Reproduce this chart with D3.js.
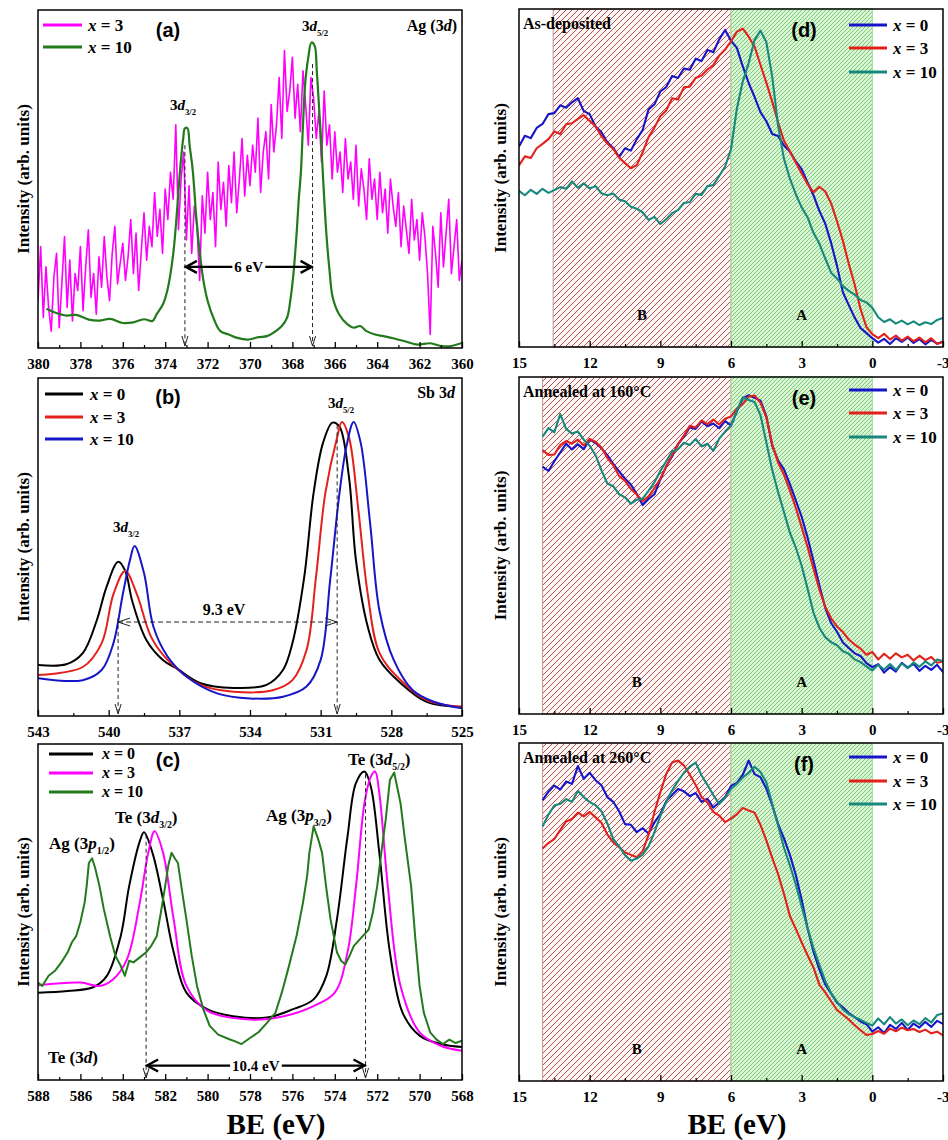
<!DOCTYPE html>
<html>
<head>
<meta charset="utf-8">
<script src="https://cdn.jsdelivr.net/npm/d3@7/dist/d3.min.js"></script>
<style>
body{margin:0;background:#fff;}
svg{display:block;}
</style>
</head>
<body>
<svg id="fig" width="948" height="1140"></svg>
<script>
// ---------- data (intensities in % of panel height) ----------
// (a) Ag 3d, x = 3 (0.125 eV steps)
var beA = [380,379.875,379.75,379.625,379.5,379.375,379.25,379.125, 379,378.875,378.75,378.625,378.5,378.375,378.25,378.125,
  378,377.875,377.75,377.625,377.5,377.375,377.25,377.125, 377,376.875,376.75,376.625,376.5,376.375,376.25,376.125,
  376,375.875,375.75,375.625,375.5,375.375,375.25,375.125, 375,374.875,374.75,374.625,374.5,374.375,374.25,374.125,
  374,373.875,373.75,373.625,373.5,373.375,373.25,373.125, 373,372.875,372.75,372.625,372.5,372.375,372.25,372.125,
  372,371.875,371.75,371.625,371.5,371.375,371.25,371.125, 371,370.875,370.75,370.625,370.5,370.375,370.25,370.125,
  370,369.875,369.75,369.625,369.5,369.375,369.25,369.125, 369,368.875,368.75,368.625,368.5,368.375,368.25,368.125,
  368,367.875,367.75,367.625,367.5,367.375,367.25,367.125, 367,366.875,366.75,366.625,366.5,366.375,366.25,366.125,
  366,365.875,365.75,365.625,365.5,365.375,365.25,365.125, 365,364.875,364.75,364.625,364.5,364.375,364.25,364.125,
  364,363.875,363.75,363.625,363.5,363.375,363.25,363.125, 363,362.875,362.75,362.625,362.5,362.375,362.25,362.125,
  362,361.875,361.75,361.625,361.5,361.375,361.25,361.125, 361,360.875,360.75,360.625,360.5,360.375,360.25,360.125, 360];
var agX3 = [14,30,9,24,12,5,21,28, 6,19,33,12,26,8,22,17, 30,11,24,35,15,22,10,27, 18,33,21,14,28,36,19,25,
  31,20,27,38,22,34,17,29, 40,26,36,30,46,33,41,28, 47,38,52,44,66,35,50,58, 32,48,28,42,36,20,45,34,
  52,38,46,30,55,41,49,36, 54,43,58,40,50,62,45,57, 48,60,52,68,46,58,64,50, 72,58,66,80,62,88,70,76,
  86,68,78,64,82,72,60,80, 74,62,70,55,76,60,66,50, 64,52,58,46,62,50,55,44, 60,42,53,47,38,56,44,50,
  38,52,40,47,34,50,42,36, 46,30,42,35,28,44,32,38, 26,40,33,22,4,36,28,18, 40,24,34,44,22,30,38,20, 26];
var agX10 = [[379.6,11.6],[379.2,10.5],[378.65,9.6],[378.2,9.8],[377.6,8.4],[377.1,8.1],[376.6,8.6],[376.0,7.4],
  [375.5,7.6],[375.0,8.5],[374.6,8.0],[374.4,10],[374.1,13],[373.9,17],[373.75,22],[373.6,29],[373.45,40],
  [373.3,52.5],[373.15,62],[373.07,65],[372.95,65],[372.85,60],[372.7,52.5],[372.55,40],[372.4,30],[372.2,20],
  [372.0,14],[371.7,8.5],[371.4,5],[371.0,4],[370.6,3],[370.1,2.5],[369.6,3.2],[369.2,3.5],[368.9,4.5],
  [368.5,6.5],[368.25,9],[368.1,14],[367.95,22],[367.8,34],[367.7,44],[367.6,52],[367.5,66],[367.4,78],
  [367.25,86],[367.1,90.4],[366.95,89.4],[366.85,82],[366.75,72],[366.65,62],[366.55,50],[366.4,34],
  [366.25,23],[366.1,15],[365.8,10],[365.4,7],[365.1,6],[364.8,6.5],[364.5,5],[364.1,4],[363.7,3.5],
  [363.2,2.8],[362.7,2],[362.1,1],[361.5,1.4],[361.0,0.6],[360.6,0.5],[360.0,1.5]];

// (b) Sb 3d
var sbX0 = [[543,15.1],[541.8,15.3],[541.1,18.6],[540.5,28.4],[540.1,38],[539.6,45.6],[539.3,43],[539.0,34],
  [538.4,22.5],[537.7,16.6],[537.1,14],[536.1,9.7],[534.7,8.3],[533.3,9.2],[532.6,13.6],[532.2,21.5],
  [531.7,41],[531.3,66],[530.9,80.8],[530.5,86.8],[530.2,85.6],[529.8,70.8],[529.5,46],[529.0,26.4],
  [528.5,16.6],[527.6,9.7],[526.5,4.2],[525,2.7]];
var sbX3 = [[543,12.1],[541.1,14.5],[540.3,21.5],[539.8,36],[539.3,42.9],[538.8,36],[538.2,23.4],[537.5,16.6],
  [536.1,9.2],[534.7,7.2],[533.0,7.7],[532.2,10.6],[531.6,19.5],[531.2,41],[530.8,66],[530.3,82.5],
  [530.1,87],[529.8,82.5],[529.4,61],[529.0,36],[528.5,18.6],[527.6,10.6],[526.5,4.7],[525,2.7]];
var sbX10 = [[543,11.2],[541.1,10.6],[540.3,13.6],[539.8,21.5],[539.4,36],[539.1,46],[538.9,50.3],[538.5,42.3],
  [538.1,26.4],[537.5,17.6],[536.7,11.7],[535.4,6.7],[534.0,5.2],[532.6,5.7],[531.6,8.7],[531.0,16.6],
  [530.6,40],[530.2,66],[529.9,80],[529.6,87],[529.3,80.8],[528.9,57],[528.5,31],[527.9,16.6],
  [527.1,7.7],[526.2,4.2],[525,2.3]];

// (c) Te 3d
var teX0 = [[588,26],[586.6,26.5],[585.4,27.6],[584.75,31],[584.1,42.8],[583.7,57.7],[583.2,71],[583.0,73.7],
  [582.6,67.6],[582.1,53.7],[581.6,38],[581.0,26],[580.0,21],[578.8,19],[577.2,18.6],[576.0,21],[575.0,24],
  [574.4,31],[573.9,47.8],[573.4,72.5],[573.0,88.4],[572.6,91.8],[572.3,87.3],[571.9,67.6],[571.4,38],
  [570.8,20],[570.0,13.2],[569.0,10.7],[568,9.8]];
var teX3 = [[588,28.2],[586.0,29],[585.1,28],[584.45,30],[583.8,36],[583.2,52.8],[582.8,67.6],[582.5,74],
  [582.1,67.6],[581.6,47.8],[581.0,28],[580.0,20.6],[578.0,18],[576.4,19],[575.0,22],[574.0,26],[573.4,38],
  [573.0,57.7],[572.6,82.4],[572.3,90.3],[572.1,91.8],[571.9,85.4],[571.5,57.7],[570.9,28],[570.0,14.2],
  [569.0,10.2],[568,8.7]];
var teX10 = [[588,29],[587.8,28],[587.5,31],[587.2,32.5],[586.9,35],[586.6,38],[586.4,41],[586.2,42.8],[586.0,47],
  [585.8,52.8],[585.7,58],[585.6,64.6],[585.45,66],[585.3,63],[585.1,57.7],[584.9,51],[584.6,42.8],[584.35,37],
  [584.1,34],[583.9,31],[583.7,35.5],[583.5,35],[583.2,36.5],[582.9,38],[582.65,40],[582.4,42.8],[582.2,50],
  [582.0,57.7],[581.85,64],[581.7,67.6],[581.55,66],[581.4,64.6],[581.2,56],[581.0,47.8],[580.75,37],
  [580.5,28],[580.2,21],[579.9,16.1],[579.5,13.5],[579.0,12.2],[578.7,11.5],[578.4,10.7],[578.0,12.5],
  [577.6,14.2],[577.2,17],[576.8,20],[576.5,26],[576.2,33],[575.8,43],[575.5,52.8],[575.3,61],[575.2,67.6],
  [575.0,75.5],[574.8,72],[574.6,67.6],[574.4,57],[574.2,47.8],[573.9,38],[573.7,35.5],[573.5,34.4],
  [573.3,37],[573.1,39.9],[572.8,42],[572.4,44.8],[572.2,50],[572.0,57.7],[571.8,68],[571.6,77.4],
  [571.4,89.3],[571.2,91.5],[571.05,87],[570.9,82.4],[570.7,72],[570.4,57.7],[570.2,42],[570.0,28],
  [569.8,20],[569.5,14.2],[569.2,12],[568.9,10.7],[568.6,12],[568.3,11],[568,11.7]];

// (d)-(f) valence band, BE in eV
var beD = [15,14.75,14.5,14.25,14,13.75,13.5,13.25,13,12.75,12.5,12.25,12,11.75,11.5,11.25,11,10.75,10.5,10.25,
  10,9.75,9.5,9.25,9,8.75,8.5,8.25,8,7.75,7.5,7.25,7,6.75,6.5,6.25,6,5.75,5.5,5.25,5,4.75,4.5,4.25,4,3.75,
  3.5,3.25,3,2.75,2.5,2.25,2,1.75,1.5,1.25,1,0.75,0.5,0.25,0,-0.25,-0.5,-0.75,-1,-1.25,-1.5,-1.75,-2,-2.25,
  -2.5,-2.75,-3];
var beEF = [14,13.75,13.5,13.25,13,12.75,12.5,12.25,12,11.75,11.5,11.25,11,10.75,10.5,10.25,
  10,9.75,9.5,9.25,9,8.75,8.5,8.25,8,7.75,7.5,7.25,7,6.75,6.5,6.25,6,5.75,5.5,5.25,5,4.75,4.5,4.25,4,3.75,
  3.5,3.25,3,2.75,2.5,2.25,2,1.75,1.5,1.25,1,0.75,0.5,0.25,0,-0.25,-0.5,-0.75,-1,-1.25,-1.5,-1.75,-2,-2.25,
  -2.5,-2.75,-3];

var dX0 = [59.3,62.5,61.8,64.8,66.0,68.9,69.2,71.5,70.8,72.4, 73.6,69.8,68.9,65.2,63.5,60.6,58.9,56.2,58.8,58.1,
  61.5,64.2,70.3,71.8,75.6,76.9,80.2,79.6,82.4,82.0, 85.3,84.6,87.9,87.2,91.0,93.8,90.6,88.5,83.0,78.1,
  74.0,69.5,66.8,63.0,62.4,59.6,57.8,54.9,52.6,48.7, 44.9,40.3,36.5,30.8,24.0,16.2,12.4,8.7,5.6,4.1,
  2.6, 1.3,2.4,0.9,2.6,1.5,2.8,1.2,2.3,0.8,2.1,1.0,1.6];
var dX3 = [53.7,56.4,55.9,58.8,60.1,61.5,63.8,63.0,65.9,66.2, 67.5,68.6,66.9,65.3,62.4,60.2,58.6,56.0,54.4,52.9,
  53.8,57.6,62.1,64.9,68.3,70.0,73.6,73.2,76.8,77.0, 79.6,80.3,82.1,83.4,86.2,88.0,90.4,93.3,94.2,91.8,
  88.9,83.5,78.2,72.6,66.4,61.0,57.9,54.6,51.3,48.2, 45.8,47.4,46.0,42.5,37.2,31.4,24.6,18.5,11.2,5.9,
  3.8, 2.6,3.9,2.2,3.4,1.9,3.1,1.7,2.8,1.4,2.6,0.9,1.5];
var dX10 = [46.2,44.9,46.5,45.3,46.8,45.6,46.4,47.3,46.8,49.0, 47.1,48.4,46.9,47.6,45.5,44.9,45.4,43.6,43.1,41.5,
  40.9,39.8,37.6,38.5,36.4,37.8,39.6,40.5,42.6,42.9, 45.3,45.0,47.6,47.9,50.6,53.4,58.5,70.5,78.6,84.0,
  90.8,93.6,90.2,80.0,65.5,55.6,49.8,45.2,41.3,38.4, 33.8,30.6,26.2,22.0,20.3,18.0,16.6,15.5,13.9,13.2,
  11.6, 8.8,7.4,8.2,6.9,7.8,6.7,7.6,6.5,7.3,6.8,8.0,8.6];

var eX0 = [73.4,72.1,75.0,77.6,80.2,78.5,80.0,78.6,81.5,80.4, 78.9,76.8,74.2,72.0,69.8,68.1,65.3,62.0,63.8,65.2,
  69.6,73.5,76.4,80.1,82.3,85.0,84.6,86.8,85.4,86.2, 84.8,86.9,85.6,89.8,93.6,94.6,93.8,93.0,88.4,79.6,
  75.2,72.6,68.2,63.4,58.5,52.4,45.5,38.2,31.5,27.0, 24.4,21.2,19.6,18.0,17.2,15.1,13.9,
  14.8,12.3,13.9,12.6,15.2,13.8,14.9,12.8,14.3,13.1,14.6,12.4];
var eX3 = [78.3,76.9,77.0,79.8,81.0,80.2,81.4,79.7,81.6,80.8, 79.1,76.0,73.8,70.6,69.2,66.8,65.1,63.2,64.6,67.0,
  69.8,73.4,76.8,80.0,82.6,85.5,85.0,87.1,86.0,87.4, 85.9,87.6,88.3,90.6,92.0,94.2,94.5,92.4,88.0,80.1,
  74.6,71.0,66.3,61.2,55.4,49.6,43.2,37.0,31.8,28.4, 26.0,24.3,22.1,20.6,19.4,17.6,18.4,
  16.2,17.9,16.4,18.0,16.8,17.6,15.9,17.3,16.0,16.9,15.2,15.6];
var eX10 = [82.3,84.8,83.6,89.0,84.6,83.2,83.8,81.4,79.6,76.8, 72.3,68.4,67.6,65.2,64.3,62.4,63.6,63.9,66.2,68.8,
  72.1,75.0,77.9,78.6,80.5,79.8,81.6,79.4,80.2,78.1, 81.7,83.8,85.6,90.0,94.0,93.2,92.6,88.7,80.6,72.4,
  65.8,59.9,53.8,49.4,44.0,37.2,30.1,25.6,22.8,21.3, 20.4,18.6,17.9,16.2,15.4,14.1,12.9,
  14.6,13.2,14.8,13.1,15.0,13.6,15.3,14.0,15.6,14.4,16.2,15.7];

var fX0 = [83.1,85.6,87.4,86.2,88.6,87.9,93.2,89.4,91.2,89.0, 87.5,84.0,82.6,79.8,76.0,75.8,73.6,74.8,73.2,76.5,
  79.0,82.8,84.6,86.4,85.7,84.3,85.2,82.6,83.5,80.9, 82.4,84.0,87.3,88.2,90.6,94.8,90.8,89.9,86.5,81.6,
  76.0,71.8,66.9,61.0,53.6,45.2,38.3,33.0,28.6,25.9, 23.2,21.8,20.1,18.9,17.6,16.8,14.6,
  15.9,14.2,16.6,15.4,17.2,15.1,17.0,15.8,17.5,16.0,17.8,16.9];
var fX3 = [68.8,70.4,71.6,74.2,76.8,77.5,79.4,78.3,79.6,78.0, 76.4,73.0,70.6,69.2,67.6,66.9,66.2,68.0,72.8,79.6,
  85.4,90.8,94.2,94.8,93.4,90.6,87.6,84.0,82.4,79.6, 78.5,76.6,77.6,78.9,80.8,80.0,79.4,75.8,71.2,66.0,
  61.2,55.3,48.8,45.0,41.0,37.2,33.6,28.5,26.2,23.6, 21.0,19.6,18.2,16.5,15.0,13.6,13.9,
  14.8,14.0,15.5,14.7,15.8,15.0,15.4,14.5,15.2,14.1,14.6,13.5];
var fX10 = [75.3,78.8,81.5,82.0,83.4,82.6,85.8,84.0,82.5,81.6, 79.8,76.2,71.6,69.4,66.8,65.2,65.8,67.0,69.4,73.6,
  78.4,82.6,86.0,88.7,91.2,93.0,94.2,90.4,87.6,84.6, 82.0,83.8,86.4,87.9,89.8,91.2,93.0,91.4,88.4,82.0,
  75.6,69.0,63.8,58.2,51.6,45.2,39.4,34.4,29.6,26.0, 23.4,21.2,19.8,18.9,18.1,17.2,16.4,
  18.5,16.8,18.9,17.0,18.2,16.5,17.9,16.8,18.6,17.3,19.5,20.0];

// ticks
var ticksA = [380,378,376,374,372,370,368,366,364,362,360];
var minorA = [379,377,375,373,371,369,367,365,363,361];
var ticksB = [543,540,537,534,531,528,525];
var minorB = [541.5,538.5,535.5,532.5,529.5,526.5];
var ticksC = [588,586,584,582,580,578,576,574,572,570,568];
var minorC = [587,585,583,581,579,577,575,573,571,569];
var ticksV = [15,12,9,6,3,0,-3];
var minorV = [13.5,10.5,7.5,4.5,1.5,-1.5];

// ---------- drawing ----------
var svg = d3.select("#fig");
var serif = "'Liberation Serif','Times New Roman',serif";
var sans = "'Liberation Sans',Arial,sans-serif";
var MAG = "#ff00ff", GRN = "#237a1c", BLK = "#000000", RED = "#e3211c", BLU = "#1616c8", TEAL = "#17887c";

var defs = svg.append("defs");
var pB = defs.append("pattern").attr("id","hatchB").attr("patternUnits","userSpaceOnUse").attr("width",6).attr("height",6);
pB.append("rect").attr("width",6).attr("height",6).attr("fill","#fff8f7");
pB.append("path").attr("d","M0,6L6,0M-1,1L1,-1M5,7L7,5").attr("stroke","#a8403a").attr("stroke-width",0.9);
var pA = defs.append("pattern").attr("id","hatchA").attr("patternUnits","userSpaceOnUse").attr("width",4).attr("height",4);
pA.append("rect").attr("width",4).attr("height",4).attr("fill","#dcf4d6");
pA.append("path").attr("d","M0,4L4,0M-1,1L1,-1M3,5L5,3").attr("stroke","#6cc868").attr("stroke-width",0.9);

// rich text: parts = [[text, flag]], flag: i italic, s subscript, u back up
function rich(g, x, y, parts, size, anchor){
  var t = g.append("text").attr("x",x).attr("y",y).attr("font-family",serif)
    .attr("font-weight","bold").attr("font-size",size).attr("text-anchor",anchor||"start");
  parts.forEach(function(p){
    var s = t.append("tspan").text(p[0]);
    if(p[1]=="i") s.attr("font-style","italic");
    if(p[1]=="s") s.attr("font-size",size*0.58).attr("dy",size*0.3);
    if(p[1]=="u") s.attr("dy",-size*0.3);
  });
  return t;
}

function vDashArrow(g, xp, y0, y1){
  g.append("line").attr("x1",xp).attr("x2",xp).attr("y1",y0).attr("y2",y1)
    .attr("stroke","#222").attr("stroke-width",1).attr("stroke-dasharray","4,3");
  g.append("path").attr("d","M"+(xp-3)+","+(y1-10)+"L"+xp+","+y1+"L"+(xp+3)+","+(y1-10))
    .attr("fill","none").attr("stroke","#222").attr("stroke-width",1);
}

function dblArrow(g, x1, x2, yy, label, size){
  g.append("line").attr("x1",x1).attr("x2",x2).attr("y1",yy).attr("y2",yy).attr("stroke","#000").attr("stroke-width",2.2);
  g.append("path").attr("d","M"+(x1+12)+","+(yy-6)+"L"+(x1+1)+","+yy+"L"+(x1+12)+","+(yy+6))
    .attr("fill","none").attr("stroke","#000").attr("stroke-width",2.4);
  g.append("path").attr("d","M"+(x2-12)+","+(yy-6)+"L"+(x2-1)+","+yy+"L"+(x2-12)+","+(yy+6))
    .attr("fill","none").attr("stroke","#000").attr("stroke-width",2.4);
  var t = g.append("text").attr("x",(x1+x2)/2).attr("y",yy+size*0.35).attr("text-anchor","middle")
    .attr("font-family",serif).attr("font-weight","bold").attr("font-size",size).text(label);
  var bb = t.node().getBBox();
  g.insert("rect", function(){ return t.node(); }).attr("x",bb.x-2).attr("y",yy-4).attr("width",bb.width+4).attr("height",8).attr("fill","#fff");
}

function drawPanel(p){
  var x = d3.scaleLinear().domain(p.xdom).range([p.left, p.right]);
  var y = d3.scaleLinear().domain([0,100]).range([p.bottom, p.top]);
  var g = svg.append("g");
  var cid = "clip_" + p.id;
  defs.append("clipPath").attr("id",cid).append("rect")
    .attr("x",p.left).attr("y",p.top).attr("width",p.right-p.left).attr("height",p.bottom-p.top);

  (p.regions||[]).forEach(function(r){
    g.append("rect").attr("x",x(r[0])).attr("y",p.top).attr("width",x(r[1])-x(r[0])).attr("height",p.bottom-p.top)
      .attr("fill","url(#hatch"+r[2]+")").attr("stroke", r[2]=="B" ? "#c89490" : "#9fd99b").attr("stroke-width",1);
  });
  (p.regionText||[]).forEach(function(r){
    g.append("text").attr("x",x(r[0])).attr("y",p.bottom-27).attr("text-anchor","middle")
      .attr("font-family",serif).attr("font-weight","bold").attr("font-size",15).text(r[1]);
  });

  var cg = g.append("g").attr("clip-path","url(#"+cid+")");
  p.series.forEach(function(s){
    var line = d3.line().x(function(d){return x(d[0]);}).y(function(d){return y(d[1]);})
      .curve(s.smooth ? d3.curveCatmullRom.alpha(0.5) : d3.curveLinear);
    cg.append("path").datum(s.data).attr("d",line).attr("fill","none")
      .attr("stroke",s.color).attr("stroke-width",s.w).attr("stroke-linejoin","round");
  });

  if(p.extra) p.extra(g, x, y);

  g.append("rect").attr("x",p.left).attr("y",p.top).attr("width",p.right-p.left).attr("height",p.bottom-p.top)
    .attr("fill","none").attr("stroke","#000").attr("stroke-width",1.5);

  var ax = g.append("g").attr("transform","translate(0,"+p.bottom+")")
    .call(d3.axisBottom(x).tickValues(p.ticks).tickSize(-6).tickPadding(10).tickFormat(function(d){return d;}));
  ax.select(".domain").remove();
  ax.selectAll("line").attr("stroke","#000").attr("stroke-width",1.3);
  ax.selectAll("text").attr("font-family",serif).attr("font-weight","bold").attr("font-size",15).attr("fill","#000");
  // keep the right-most label inside the page
  ax.selectAll(".tick").filter(function(d){ return x(d) > 935; }).select("text").attr("text-anchor","end").attr("dx",6);
  var mx = g.append("g").attr("transform","translate(0,"+p.bottom+")")
    .call(d3.axisBottom(x).tickValues(p.minor).tickSize(-3).tickFormat(""));
  mx.select(".domain").remove();
  mx.selectAll("line").attr("stroke","#000").attr("stroke-width",1.2);

  // y title
  g.append("text").attr("transform","translate("+p.ytx+","+((p.top+p.bottom)/2)+") rotate(-90)")
    .attr("text-anchor","middle").attr("dominant-baseline","central")
    .attr("font-family",serif).attr("font-weight","bold").attr("font-size",17).text("Intensity (arb. units)");

  // legend
  var L = p.legend;
  L.rows.forEach(function(r){
    g.append("line").attr("x1",L.x1).attr("x2",L.x2).attr("y1",r[0]).attr("y2",r[0])
      .attr("stroke",r[1]).attr("stroke-width",3);
    rich(g, L.tx, r[0]+L.fs*0.33, [["x","i"],[" = "+r[2]]], L.fs);
  });

  // panel letter
  g.append("text").attr("x",p.letter[0]).attr("y",p.letter[1]).attr("text-anchor","middle")
    .attr("font-family",sans).attr("font-weight","bold").attr("font-size",20).text(p.letter[2]);

  (p.labels||[]).forEach(function(l){ rich(g, l.x, l.y, l.parts, l.size, l.anchor); });
}

// (a)
drawPanel({id:"a", left:38, right:462, top:10, bottom:348, xdom:[380,360], ticks:ticksA, minor:minorA, ytx:23,
  series:[{data:d3.zip(beA, agX3), color:MAG, w:1.6},
          {data:agX10, color:GRN, w:2.2, smooth:true}],
  legend:{x1:43, x2:82, tx:88, fs:17, rows:[[25,MAG,"3"],[47,GRN,"10"]]},
  letter:[168, 37, "(a)"],
  labels:[
    {x:170, y:110, size:15, parts:[["3"],["d","i"],["3/2","s"]]},
    {x:302, y:31, size:15, parts:[["3"],["d","i"],["5/2","s"]]},
    {x:457, y:31, size:16, anchor:"end", parts:[["Ag (3"],["d","i"],[")"]]}
  ],
  extra:function(g,x,y){
    vDashArrow(g, x(373.07), y(60), 346);
    vDashArrow(g, x(367.05), y(84), 346);
    dblArrow(g, x(373.07), x(367.05), y(24), "6 eV", 15);
  }});

// (b)
drawPanel({id:"b", left:38, right:462, top:378, bottom:716, xdom:[543,525], ticks:ticksB, minor:minorB, ytx:23,
  series:[{data:sbX0, color:BLK, w:2, smooth:true},
          {data:sbX3, color:RED, w:2, smooth:true},
          {data:sbX10, color:BLU, w:2, smooth:true}],
  legend:{x1:45, x2:83, tx:90, fs:17, rows:[[394,BLK,"0"],[417,RED,"3"],[439,BLU,"10"]]},
  letter:[168, 404, "(b)"],
  labels:[
    {x:113, y:532, size:15, parts:[["3"],["d","i"],["3/2","s"]]},
    {x:328, y:408, size:15, parts:[["3"],["d","i"],["5/2","s"]]},
    {x:455, y:398, size:16, anchor:"end", parts:[["Sb 3"],["d","i"]]}
  ],
  extra:function(g,x,y){
    var xl = x(539.6), xr = x(530.3), yy = y(27.8);
    vDashArrow(g, xl, yy - 4, 714);
    vDashArrow(g, xr, y(86), 714);
    g.append("line").attr("x1",xl).attr("x2",xr).attr("y1",yy).attr("y2",yy)
      .attr("stroke","#222").attr("stroke-width",1).attr("stroke-dasharray","5,3");
    g.append("path").attr("d","M"+(xl+12)+","+(yy-4)+"L"+xl+","+yy+"L"+(xl+12)+","+(yy+4)+
      "M"+(xr-12)+","+(yy-4)+"L"+xr+","+yy+"L"+(xr-12)+","+(yy+4)).attr("fill","none").attr("stroke","#222").attr("stroke-width",1);
    g.append("text").attr("x",x(535.1)).attr("y",yy-7).attr("text-anchor","middle")
      .attr("font-family",serif).attr("font-weight","bold").attr("font-size",16).text("9.3 eV");
  }});

// (c)
drawPanel({id:"c", left:38, right:462, top:744, bottom:1080, xdom:[588,568], ticks:ticksC, minor:minorC, ytx:23,
  series:[{data:teX0, color:BLK, w:2, smooth:true},
          {data:teX3, color:MAG, w:2, smooth:true},
          {data:teX10, color:GRN, w:2}],
  legend:{x1:49, x2:93, tx:102, fs:16, rows:[[754,BLK,"0"],[773,MAG,"3"],[792,GRN,"10"]]},
  letter:[168, 767, "(c)"],
  labels:[
    {x:49, y:849, size:17, parts:[["Ag (3"],["p","i"],["1/2","s"],[")","u"]]},
    {x:115, y:823, size:17, parts:[["Te (3"],["d","i"],["3/2","s"],[")","u"]]},
    {x:266, y:821, size:17, parts:[["Ag (3"],["p","i"],["3/2","s"],[")","u"]]},
    {x:348, y:765, size:17, parts:[["Te (3"],["d","i"],["5/2","s"],[")","u"]]},
    {x:48, y:1063, size:17, parts:[["Te (3"],["d","i"],[")"]]}
  ],
  extra:function(g,x,y){
    vDashArrow(g, x(582.9), y(73), 1078);
    vDashArrow(g, x(572.55), y(91), 1078);
    dblArrow(g, x(582.9), x(572.55), y(4.3), "10.4 eV", 15);
  }});

// (d)-(f)
function vbPanel(id, top, bottom, bStart, s0, s3, s10, be, title, letter, legY){
  drawPanel({id:id, left:519, right:943, top:top, bottom:bottom, xdom:[15,-3], ticks:ticksV, minor:minorV, ytx:500,
    regions:[[bStart,6,"B"],[6,0,"A"]],
    regionText:[[(bStart+6)/2,"B"],[3,"A"]],
    series:[{data:d3.zip(be, s0), color:BLU, w:2.1},
            {data:d3.zip(be, s3), color:RED, w:2.1},
            {data:d3.zip(be, s10), color:TEAL, w:2.1}],
    legend:{x1:849, x2:887, tx:893, fs:17, rows:[[legY[0],BLU,"0"],[legY[1],RED,"3"],[legY[2],TEAL,"10"]]},
    letter:[804, top+28, letter],
    labels:[{x:523, y:top+20, size:16, parts:[[title]]}]
  });
}
vbPanel("d", 9, 347, 13.55, dX0, dX3, dX10, beD, "As-deposited", "(d)", [25,48,72]);
vbPanel("e", 377, 714, 14, eX0, eX3, eX10, beEF, "Annealed at 160\u00B0C", "(e)", [390,413,437]);
vbPanel("f", 743, 1081, 14, fX0, fX3, fX10, beEF, "Annealed at 260\u00B0C", "(f)", [757,781,804]);

// x titles
[276, 737].forEach(function(cx){
  svg.append("text").attr("x",cx).attr("y",1134).attr("text-anchor","middle")
    .attr("font-family",serif).attr("font-weight","bold").attr("font-size",29).text("BE (eV)");
});
</script>
</body>
</html>
